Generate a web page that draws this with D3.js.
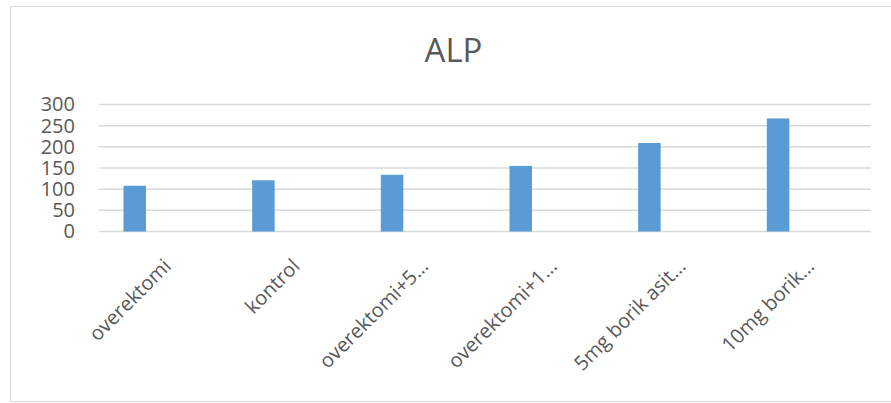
<!DOCTYPE html>
<html>
<head>
<meta charset="utf-8">
<script src="https://cdn.jsdelivr.net/npm/d3@7"></script>
<style>
  body { margin: 0; background: #fff; }
  svg { display: block; }
</style>
</head>
<body>
<div id="chart"></div>
<script>
const categories = ["overektomi", "kontrol", "overektomi+5…", "overektomi+1…", "5mg borik asit…", "10mg borik…"];
const alpValues = [108, 121, 134, 155, 209, 267];
const yTicks = [0, 50, 100, 150, 200, 250, 300];
const title = "ALP";

const width = 891, height = 403;
const margin = {top: 104.5, right: 20, bottom: 171.5, left: 99};
const w = width - margin.left - margin.right;
const h = height - margin.top - margin.bottom;

const svg = d3.select("#chart").append("svg")
    .attr("width", width)
    .attr("height", height);

// chart frame
svg.append("rect")
    .attr("x", 10.5).attr("y", 6.5)
    .attr("width", 890).attr("height", 395)
    .attr("fill", "#fff")
    .attr("stroke", "#d9d9d9");

svg.append("text")
    .attr("x", 453.5).attr("y", 61.5)
    .attr("text-anchor", "middle")
    .attr("font-family", "'Open Sans', sans-serif")
    .attr("font-size", 33)
    .attr("fill", "#595959")
    .text(title);

const g = svg.append("g")
    .attr("transform", `translate(${margin.left},${margin.top})`);

const x = d3.scaleBand().domain(categories).range([0, w]);
const y = d3.scaleLinear().domain([0, 300]).range([h, 0]);

// grid
g.append("g")
    .selectAll("line")
    .data(yTicks)
    .join("line")
    .attr("x1", 0).attr("x2", w)
    .attr("y1", d => y(d)).attr("y2", d => y(d))
    .attr("stroke", "#d9d9d9")
    .attr("stroke-width", 1.5);

// y axis labels
const yAxis = d3.axisLeft(y).tickValues(yTicks).tickSize(0).tickPadding(24);
g.append("g")
    .call(yAxis)
    .call(a => a.select(".domain").remove())
    .selectAll("text")
    .attr("font-family", "'Open Sans', sans-serif")
    .attr("font-size", 20)
    .attr("fill", "#595959");

// bars, offset left inside each category (first of three series slots)
const barW = 22.5;
const offset = x.bandwidth() * 0.5 - 28.6;
g.selectAll("rect.bar")
    .data(alpValues)
    .join("rect")
    .attr("class", "bar")
    .attr("x", (d, i) => x(categories[i]) + offset - barW / 2)
    .attr("y", d => y(d))
    .attr("width", barW)
    .attr("height", d => h - y(d))
    .attr("fill", "#5b9bd5");

// x labels
const xAxis = d3.axisBottom(x).tickSize(0).tickPadding(0);
g.append("g")
    .attr("transform", `translate(0,${h})`)
    .call(xAxis)
    .call(a => a.select(".domain").remove())
    .selectAll("text")
    .attr("font-family", "'Open Sans', sans-serif")
    .attr("font-size", 20)
    .attr("fill", "#595959")
    .attr("text-anchor", "end")
    .attr("dy", "0.35em")
    .attr("transform", "translate(4,31) rotate(-45)");
</script>
</body>
</html>
